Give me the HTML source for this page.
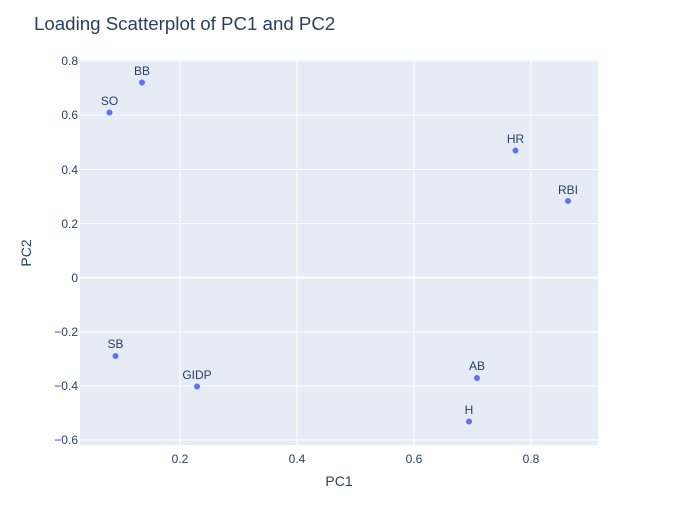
<!DOCTYPE html>
<html><head><meta charset="utf-8"><style>
body{margin:0;background:#fff;}
svg text{font-family:"Liberation Sans",sans-serif;fill:#2a3f5f;}
</style></head><body>
<svg width="678" height="525" xmlns="http://www.w3.org/2000/svg">
<rect x="0" y="0" width="678" height="525" fill="#fff"/>
<rect x="80" y="60" width="518" height="385" fill="#E5ECF6"/>
<g stroke="#fff" stroke-width="1">
<line x1="180" y1="60" x2="180" y2="445"/>
<line x1="297" y1="60" x2="297" y2="445"/>
<line x1="414" y1="60" x2="414" y2="445"/>
<line x1="531" y1="60" x2="531" y2="445"/>
<line x1="80" y1="61" x2="598" y2="61"/>
<line x1="80" y1="115" x2="598" y2="115"/>
<line x1="80" y1="169.5" x2="598" y2="169.5"/>
<line x1="80" y1="223.5" x2="598" y2="223.5"/>
<line x1="80" y1="332" x2="598" y2="332"/>
<line x1="80" y1="386" x2="598" y2="386"/>
<line x1="80" y1="440" x2="598" y2="440"/>
</g>
<line x1="80" y1="277.6" x2="598" y2="277.6" stroke="#fff" stroke-width="2"/>
<g font-size="12" text-anchor="end">
<text x="78" y="65">0.8</text>
<text x="78" y="119">0.6</text>
<text x="78" y="174">0.4</text>
<text x="78" y="228">0.2</text>
<text x="78" y="282">0</text>
<text x="78" y="336">−0.2</text>
<text x="78" y="390">−0.4</text>
<text x="78" y="444">−0.6</text>
</g>
<g font-size="12" text-anchor="middle">
<text x="180" y="463">0.2</text>
<text x="297" y="463">0.4</text>
<text x="414" y="463">0.6</text>
<text x="531" y="463">0.8</text>
</g>
<text x="339" y="486" font-size="14" text-anchor="middle">PC1</text>
<text x="31" y="253" font-size="14" text-anchor="middle" transform="rotate(-90 31 253)">PC2</text>
<text x="34" y="30" font-size="18.7">Loading Scatterplot of PC1 and PC2</text>
<g fill="#636efa">
<circle cx="142" cy="82.5" r="3"/>
<circle cx="109.5" cy="112.5" r="3"/>
<circle cx="515.5" cy="150.5" r="3"/>
<circle cx="568" cy="201" r="3"/>
<circle cx="115.5" cy="356" r="3"/>
<circle cx="197" cy="386.5" r="3"/>
<circle cx="477" cy="378" r="3"/>
<circle cx="469" cy="421.5" r="3"/>
</g>
<g font-size="12" text-anchor="middle">
<text x="142" y="75">BB</text>
<text x="109.5" y="105">SO</text>
<text x="515.5" y="143">HR</text>
<text x="568" y="194">RBI</text>
<text x="115.5" y="348">SB</text>
<text x="197" y="379">GIDP</text>
<text x="477" y="370">AB</text>
<text x="469" y="414">H</text>
</g>
</svg>
</body></html>
